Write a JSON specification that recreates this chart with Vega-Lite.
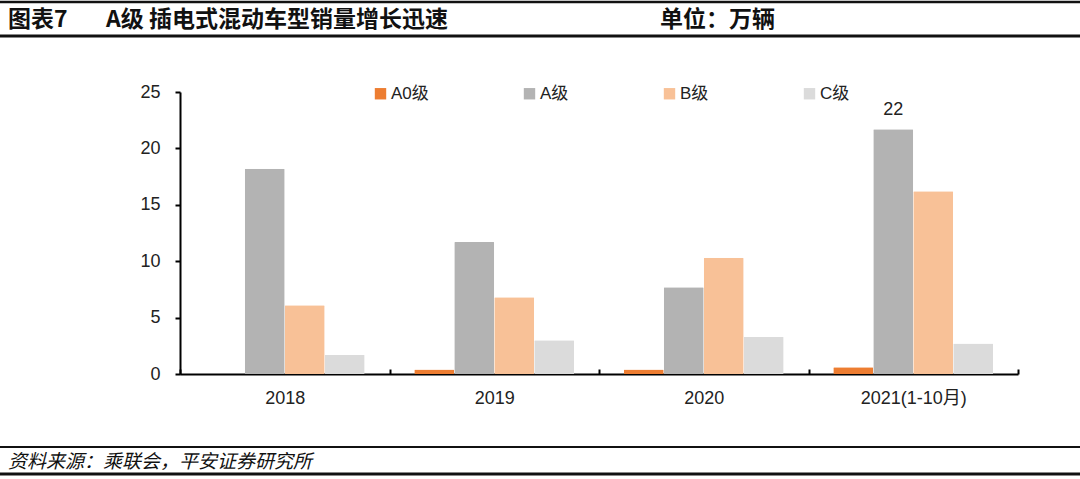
{
  "$schema": "https://vega.github.io/schema/vega-lite/v6.json",
  "autosize": {"type": "none"},
  "width": 838,
  "height": 282,
  "padding": {"left": 180, "top": 92, "right": 62, "bottom": 105},
  "background": "white",
  "config": {
    "view": {"stroke": null},
    "font": "Liberation Sans, Noto Sans CJK SC"
  },
  "layer": [
    {
      "data": {"values": [
        {"year": "2018", "grade": "A0级", "value": 0},
        {"year": "2018", "grade": "A级", "value": 18.2},
        {"year": "2018", "grade": "B级", "value": 6.1},
        {"year": "2018", "grade": "C级", "value": 1.7},
        {"year": "2019", "grade": "A0级", "value": 0.4},
        {"year": "2019", "grade": "A级", "value": 11.7},
        {"year": "2019", "grade": "B级", "value": 6.8},
        {"year": "2019", "grade": "C级", "value": 3.0},
        {"year": "2020", "grade": "A0级", "value": 0.4},
        {"year": "2020", "grade": "A级", "value": 7.7},
        {"year": "2020", "grade": "B级", "value": 10.3},
        {"year": "2020", "grade": "C级", "value": 3.3},
        {"year": "2021(1-10月)", "grade": "A0级", "value": 0.6},
        {"year": "2021(1-10月)", "grade": "A级", "value": 21.7},
        {"year": "2021(1-10月)", "grade": "B级", "value": 16.2},
        {"year": "2021(1-10月)", "grade": "C级", "value": 2.7}
      ]},
      "layer": [
        {
          "mark": {"type": "bar", "cornerRadiusTopLeft": 1, "cornerRadiusTopRight": 1},
          "encoding": {
            "x": {"field": "year", "type": "nominal", "sort": null,
              "scale": {"paddingInner": 0, "paddingOuter": 0},
              "axis": {"title": null, "labelAngle": 0, "labelFontSize": 18, "labelColor": "#222",
                "domainColor": "#000", "domainWidth": 2, "tickColor": "#000", "tickWidth": 2,
                "tickSize": -5, "tickBand": "extent", "labelPadding": 20}},
            "xOffset": {"field": "grade", "type": "nominal", "sort": ["A0级", "A级", "B级", "C级"],
              "scale": {"paddingInner": 0, "paddingOuter": 0.62}},
            "y": {"field": "value", "type": "quantitative",
              "scale": {"domain": [0, 25], "nice": false, "zero": true},
              "axis": {"title": null, "values": [0, 5, 10, 15, 20, 25], "grid": false,
                "labelFontSize": 18, "labelColor": "#222", "domainColor": "#000", "domainWidth": 2,
                "tickColor": "#000", "tickWidth": 2, "tickSize": 5, "labelPadding": 15}},
            "color": {"field": "grade", "type": "nominal",
              "scale": {"domain": ["A0级", "A级", "B级", "C级"], "range": ["#ED7D31", "#B3B3B3", "#F8C197", "#DBDBDB"]},
              "legend": {"title": null, "orient": "none", "legendX": 192, "legendY": -7,
                "direction": "horizontal", "symbolType": "square", "symbolSize": 130,
                "symbolStrokeWidth": 0, "labelFontSize": 17, "labelColor": "#222",
                "columnPadding": 92, "symbolOffset": 0, "labelOffset": 2}}
          }
        },
        {
          "transform": [{"filter": "datum.grade == 'A级' && datum.year == '2021(1-10月)'"}],
          "mark": {"type": "text", "dy": -19, "fontSize": 18, "color": "#222"},
          "encoding": {
            "x": {"field": "year", "type": "nominal", "sort": null},
            "xOffset": {"field": "grade", "type": "nominal", "sort": ["A0级", "A级", "B级", "C级"]},
            "y": {"field": "value", "type": "quantitative"},
            "text": {"field": "value", "type": "quantitative", "format": ".0f"}
          }
        }
      ]
    },
    {
      "data": {"values": [{}]},
      "layer": [
        {"mark": {"type": "rule", "color": "#111", "strokeWidth": 2.5},
         "encoding": {"x": {"value": -180}, "x2": {"value": 900}, "y": {"value": -90}}},
        {"mark": {"type": "rule", "color": "#111", "strokeWidth": 3},
         "encoding": {"x": {"value": -180}, "x2": {"value": 900}, "y": {"value": -56}}},
        {"mark": {"type": "rule", "color": "#111", "strokeWidth": 2},
         "encoding": {"x": {"value": -180}, "x2": {"value": 900}, "y": {"value": 355}}},
        {"mark": {"type": "rule", "color": "#111", "strokeWidth": 3},
         "encoding": {"x": {"value": -180}, "x2": {"value": 900}, "y": {"value": 382}}},
        {"mark": {"type": "text", "text": "图表7", "fontSize": 23, "fontWeight": "bold", "align": "left", "baseline": "middle", "color": "#111", "font": "Noto Sans CJK SC"},
         "encoding": {"x": {"value": -172}, "y": {"value": -72}}},
        {"mark": {"type": "text", "text": "A级 插电式混动车型销量增长迅速", "fontSize": 23, "fontWeight": "bold", "align": "left", "baseline": "middle", "color": "#111", "font": "Noto Sans CJK SC"},
         "encoding": {"x": {"value": -74}, "y": {"value": -72}}},
        {"mark": {"type": "text", "text": "单位：万辆", "fontSize": 23, "fontWeight": "bold", "align": "left", "baseline": "middle", "color": "#111", "font": "Noto Sans CJK SC"},
         "encoding": {"x": {"value": 480}, "y": {"value": -72}}},
        {"mark": {"type": "text", "text": "资料来源：乘联会，平安证券研究所", "fontSize": 19, "fontStyle": "italic", "align": "left", "baseline": "middle", "color": "#111", "font": "Noto Sans CJK SC"},
         "encoding": {"x": {"value": -172}, "y": {"value": 370}}}
      ]
    }
  ]
}
